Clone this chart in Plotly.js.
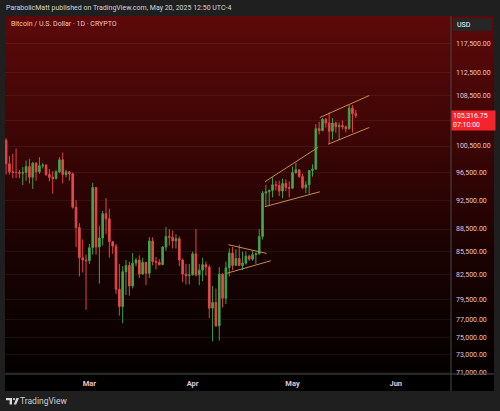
<!DOCTYPE html>
<html><head><meta charset="utf-8">
<script src="https://cdn.plot.ly/plotly-3.0.1.min.js"></script>
<style>
html,body{margin:0;padding:0;background:#1f1f1f;width:500px;height:411px;overflow:hidden}
#panel{position:absolute;left:5px;top:16px;width:489px;height:359px;background:linear-gradient(to bottom,#5c0909 0%,#3c0505 35%,#1b0202 65%,#040000 100%)}
#strip{position:absolute;left:5px;top:375px;width:489px;height:16px;background:#000}
#chart{position:absolute;left:0;top:0;width:500px;height:411px}
</style></head><body>
<div id="panel"></div><div id="strip"></div><div id="chart"></div>
<script>
// ---- data ----
const dates = [
'2025-02-04','2025-02-05','2025-02-06','2025-02-07','2025-02-08','2025-02-09','2025-02-10','2025-02-11','2025-02-12','2025-02-13',
'2025-02-14','2025-02-15','2025-02-16','2025-02-17','2025-02-18','2025-02-19','2025-02-20','2025-02-21','2025-02-22','2025-02-23',
'2025-02-24','2025-02-25','2025-02-26','2025-02-27','2025-02-28',
'2025-03-01','2025-03-02','2025-03-03','2025-03-04','2025-03-05','2025-03-06','2025-03-07','2025-03-08','2025-03-09','2025-03-10',
'2025-03-11','2025-03-12','2025-03-13','2025-03-14','2025-03-15','2025-03-16','2025-03-17','2025-03-18','2025-03-19','2025-03-20',
'2025-03-21','2025-03-22','2025-03-23','2025-03-24','2025-03-25','2025-03-26','2025-03-27','2025-03-28','2025-03-29','2025-03-30','2025-03-31',
'2025-04-01','2025-04-02','2025-04-03','2025-04-04','2025-04-05','2025-04-06','2025-04-07','2025-04-08','2025-04-09','2025-04-10',
'2025-04-11','2025-04-12','2025-04-13','2025-04-14','2025-04-15','2025-04-16','2025-04-17','2025-04-18','2025-04-19','2025-04-20',
'2025-04-21','2025-04-22','2025-04-23','2025-04-24','2025-04-25','2025-04-26','2025-04-27','2025-04-28','2025-04-29','2025-04-30',
'2025-05-01','2025-05-02','2025-05-03','2025-05-04','2025-05-05','2025-05-06','2025-05-07','2025-05-08','2025-05-09','2025-05-10',
'2025-05-11','2025-05-12','2025-05-13','2025-05-14','2025-05-15','2025-05-16','2025-05-17','2025-05-18','2025-05-19','2025-05-20'];
const opens = [
101400,97800,96600,96500,96500,96400,96500,97400,95800,97900,
96600,97500,97600,96200,95800,95600,96600,98400,96200,96600,
96300,91500,88700,84700,84400,
84300,86000,94300,86100,87300,90600,89900,86800,86200,80700,
78600,82900,83700,81100,84000,84400,82600,84100,82700,86900,
84200,84100,83800,86100,87500,87400,86900,87200,84400,82600,82400,
82500,85200,82500,83100,83800,83500,78400,79100,76300,82600,
79600,83400,85300,83700,84600,83700,84000,84900,84500,85100,
85200,87500,93500,93700,93900,94700,94600,93800,94900,94300,
94200,96500,96900,95900,94300,94700,96800,97000,103200,102900,
104700,104100,102800,104100,103500,103700,103500,103200,106500,105600];
const highs = [
101700,99000,99300,100100,96900,97300,98300,98500,98100,98000,
98800,97900,97700,97000,96700,96900,98800,99500,96900,96700,
96500,92500,89300,87100,85100,
86500,95000,94400,88900,91000,92800,91300,86900,86500,83900,
83600,84400,84200,85300,84700,85000,84700,84100,87400,87400,
84800,84500,86200,88800,88500,88300,87800,87500,84600,83900,83900,
85500,88500,83900,84700,84200,83800,81100,80800,83500,82700,
84200,85900,86100,85800,86400,85500,85500,85100,85600,85400,
88500,93800,94700,94000,95800,95300,95300,95600,95500,95200,
97400,97900,96900,96300,95200,96900,97700,103900,104300,104900,
104900,105800,104900,104300,104200,104500,103700,107100,107000,106200];
const lows = [
96200,96200,95700,95700,95700,94700,95300,94900,94100,95300,
96300,97100,96000,95200,93400,95500,96400,94900,95800,95300,
91300,86100,82300,82800,78200,
83900,85100,85100,81400,86300,87800,84700,85200,80100,77500,
76600,80000,79900,80800,83600,82100,82500,81200,82100,83700,
83200,83700,83800,85600,86300,85900,85900,83600,81600,81300,81300,
82400,82300,81200,81700,82400,77200,74500,76200,74600,78500,
78900,82300,83100,83700,83600,83100,83800,84300,84300,83900,
85100,87100,91700,91700,92900,93900,93100,92800,93800,92900,
94200,96300,95700,94100,93500,93400,95900,96900,102300,102800,
103400,100800,101500,102600,101400,103100,102600,103100,102600,104900];
const closes = [
97800,96600,96500,96500,96400,96500,97400,95800,97900,96600,
97500,97600,96200,95800,95600,96600,98400,96200,96600,96300,
91500,88700,84700,84400,84300,
86000,94300,86100,87300,90600,89900,86800,86200,80700,78600,
82900,83700,81100,84000,84400,82600,84100,82700,86900,84200,
84100,83800,86100,87500,87400,86900,87200,84400,82600,82400,82500,
85200,82500,83100,83800,83500,78400,79100,76300,82600,79600,
83400,85300,83700,84600,83700,84000,84900,84500,85100,85200,
87500,93500,93700,93900,94700,94600,93800,94900,94300,94200,
96500,96900,95900,94300,94700,96800,97000,103200,102900,104700,
104100,102800,104100,103500,103700,103500,103200,106500,105600,105316.75];

const lastPrice = 105316.75;
const lastPriceText = '105,316.75';
const countdownText = '07:10:00';

const priceTicks = [71000,73000,75000,77000,79500,82500,85500,88500,92500,96500,100500,104500,108500,112500,117500];
const priceTickText = ['71,000.00','73,000.00','75,000.00','77,000.00','79,500.00','82,500.00','85,500.00','88,500.00','92,500.00','96,500.00','100,500.00','','108,500.00','112,500.00','117,500.00'];

const monthTicks = ['2025-03-01','2025-04-01','2025-05-01','2025-06-01'];
const monthLabels = ['Mar','Apr','May','Jun'];

// drawn trend lines (date, price endpoints)
const pennantUpperX = ['2025-04-11 18:00','2025-04-23 06:00'];
const pennantUpperY = [86400,85250];
const pennantLowerX = ['2025-04-11 06:00','2025-04-24 12:00'];
const pennantLowerY = [82700,84300];
const wedgeUpperX = ['2025-04-22 17:00','2025-05-08 17:00'];
const wedgeUpperY = [95150,100300];
const wedgeLowerX = ['2025-04-22 17:00','2025-05-09 05:00'];
const wedgeLowerY = [91580,93700];
const chanUpperX = ['2025-05-09 05:00','2025-05-24 01:00'];
const chanUpperY = [104980,108580];
const chanLowerX = ['2025-05-11 17:00','2025-05-24 01:00'];
const chanLowerY = [100780,103390];

// ---- chart ----
const lineColor = '#c48c4c';
function seg(x, y){ return {type:'scatter', mode:'lines', x:x, y:y, line:{color:lineColor,width:1}, hoverinfo:'skip', showlegend:false}; }

const traces = [
  {type:'candlestick', x:dates, open:opens, high:highs, low:lows, close:closes,
   increasing:{line:{color:'#3f9e4a',width:1}, fillcolor:'#4caf50'},
   decreasing:{line:{color:'#e04646',width:1}, fillcolor:'#f04e4e'},
   whiskerwidth:0, hoverinfo:'skip', showlegend:false},
  seg(pennantUpperX, pennantUpperY), seg(pennantLowerX, pennantLowerY),
  seg(wedgeUpperX, wedgeUpperY), seg(wedgeLowerX, wedgeLowerY),
  seg(chanUpperX, chanUpperY), seg(chanLowerX, chanLowerY)
];

const tickColor = '#e6c4d2';
const font = 'Roboto, "Liberation Sans", sans-serif';

const layout = {
  width:500, height:411,
  margin:{l:5, r:49, t:16, b:37, pad:0},
  paper_bgcolor:'rgba(0,0,0,0)', plot_bgcolor:'rgba(0,0,0,0)',
  showlegend:false,
  font:{family:font},
  xaxis:{type:'date', range:['2025-02-03 16:00','2025-06-17 14:00'], rangeslider:{visible:false},
    showgrid:false, zeroline:false, showline:false, ticks:'',
    tickmode:'array', tickvals:monthTicks, ticktext:monthLabels,
    tickfont:{family:font, size:7.5, color:tickColor, weight:'bold'}, ticklabelstandoff:3, fixedrange:true, automargin:false},
  yaxis:{type:'log', side:'right', range:[Math.log10(70880), Math.log10(122640)],
    tickmode:'array', tickvals:priceTicks, ticktext:priceTickText,
    showgrid:true, gridcolor:'rgba(255,255,255,0.06)', gridwidth:1,
    zeroline:false, showline:false, ticks:'',
    tickfont:{family:font, size:7, color:tickColor}, ticklabelstandoff:4, fixedrange:true, automargin:false},
  shapes:[
    {type:'line', xref:'paper', yref:'paper', x0:0, x1:1.0964, y0:0, y1:0, line:{color:'#4a4a4a', width:1}},
    {type:'line', xref:'paper', yref:'paper', x0:1, x1:1, y0:1, y1:-0.0475, line:{color:'#4a4a4a', width:1}},
    {type:'rect', xref:'paper', yref:'paper', xsizemode:'pixel', ysizemode:'pixel', xanchor:1, yanchor:1,
     x0:2, x1:41, y0:-2, y1:-15, fillcolor:'#262626', line:{width:0}},
    // TradingView logo
    {type:'path', xref:'paper', yref:'paper', xsizemode:'pixel', ysizemode:'pixel', xanchor:0, yanchor:0,
     path:'M1,-24 L7,-24 L7,-30.5 L4.6,-30.5 L4.6,-26.2 L1,-26.2 Z', fillcolor:'#d8d8d8', line:{width:0}},
    {type:'circle', xref:'paper', yref:'paper', xsizemode:'pixel', ysizemode:'pixel', xanchor:0, yanchor:0,
     x0:7.9, x1:10.1, y0:-24, y1:-26.2, fillcolor:'#d8d8d8', line:{width:0}},
    {type:'path', xref:'paper', yref:'paper', xsizemode:'pixel', ysizemode:'pixel', xanchor:0, yanchor:0,
     path:'M11.4,-24 L14,-24 L11.2,-30.5 L8.8,-30.5 Z', fillcolor:'#d8d8d8', line:{width:0}}
  ],
  annotations:[
    {xref:'paper', yref:'paper', x:0, y:1, xanchor:'left', yanchor:'middle', yshift:8, xshift:-1, showarrow:false,
     text:'ParabolicMatt published on TradingView.com, May 20, 2025 12:50 UTC-4', font:{family:font, size:7, color:'#d6d6d6'}},
    {xref:'paper', yref:'paper', x:0, y:1, xanchor:'left', yanchor:'middle', yshift:-8, xshift:4, showarrow:false,
     text:'Bitcoin / U.S. Dollar · 1D · CRYPTO', font:{family:font, size:7, color:'#f0c6ca'}},
    {xref:'paper', yref:'paper', x:1, y:1, xanchor:'left', yanchor:'middle', yshift:-8.5, xshift:4, showarrow:false,
     text:'USD', font:{family:font, size:7, color:'#ffffff'}},
    {xref:'paper', yref:'y', x:1, y:Math.log10(lastPrice), xanchor:'left', yanchor:'top', yshift:5.5, xshift:0, showarrow:false,
     text:lastPriceText+'<br>'+countdownText, align:'left', bgcolor:'#f5232b', borderpad:1, width:41,
     font:{family:font, size:7, color:'#ffffff'}},
    {xref:'paper', yref:'paper', x:0, y:0, xanchor:'left', yanchor:'middle', yshift:-27, xshift:13, showarrow:false,
     text:'TradingView', font:{family:font, size:8.5, color:'#d0d0d0'}}
  ]
};

Plotly.newPlot('chart', traces, layout, {staticPlot:true, displayModeBar:false});
</script></body></html>
